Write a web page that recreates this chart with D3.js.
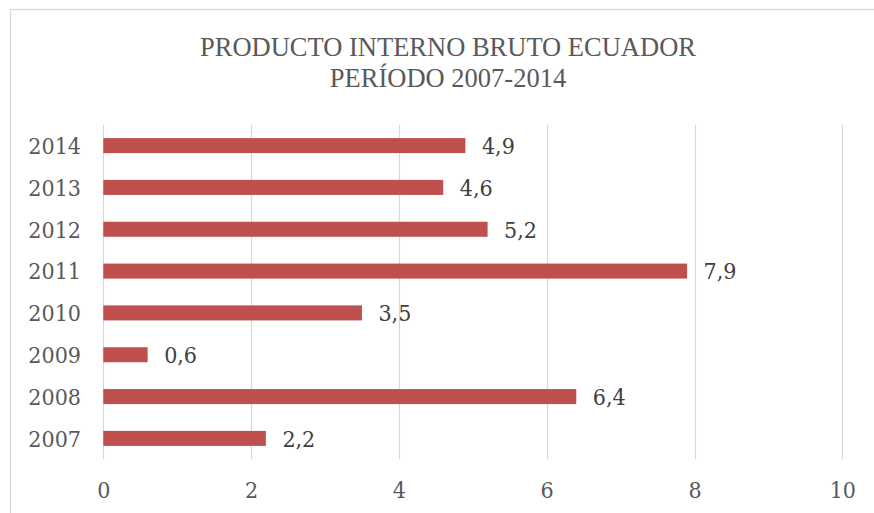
<!DOCTYPE html>
<html><head><meta charset="utf-8">
<script src="https://cdn.jsdelivr.net/npm/d3@7"></script>
<style>html,body{margin:0;padding:0;background:#fff;}svg{display:block;}</style>
</head><body>
<script>
const years = ["2007","2008","2009","2010","2011","2012","2013","2014"];
const values = [2.2, 6.4, 0.6, 3.5, 7.9, 5.2, 4.6, 4.9];
const xTicks = [0, 2, 4, 6, 8, 10];
const titleLines = ["PRODUCTO INTERNO BRUTO ECUADOR", "PERÍODO 2007-2014"];

const W = 874, H = 513;
const svg = d3.select("body").append("svg").attr("width", W).attr("height", H);
const numFont = "'DejaVu Serif Condensed', 'DejaVu Serif', serif";

// chart frame
svg.append("rect").attr("x", 10.5).attr("y", 9.5).attr("width", 900).attr("height", 600)
  .attr("fill", "#fff").attr("stroke", "#d9d9d9").attr("stroke-width", 1.3);

const x = d3.scaleLinear().domain([0, 10]).range([103.3, 842.3]);
const y = d3.scaleBand().domain(years.slice().reverse()).range([124.7, 459.3])
  .paddingInner(0.641).paddingOuter(0.3205);

// gridlines
svg.append("g").selectAll("line").data(xTicks).join("line")
  .attr("x1", d => Math.round(x(d)) + 0.5).attr("x2", d => Math.round(x(d)) + 0.5)
  .attr("y1", 124.7).attr("y2", 459.3)
  .attr("stroke", "#d9d9d9").attr("stroke-width", 1.2);

// x axis labels
const xAxis = d3.axisBottom(x).tickValues(xTicks).tickSize(0).tickPadding(0).tickFormat(d => d);
const gx = svg.append("g").attr("transform", "translate(0,482)").call(xAxis);
gx.select(".domain").remove();
gx.selectAll("text").attr("font-family", numFont).attr("font-size", 23).attr("fill", "#595959").attr("dy", "0.71em").attr("y", 0);

// y axis labels
const yAxis = d3.axisLeft(y).tickSize(0).tickPadding(0);
const gy = svg.append("g").attr("transform", "translate(81,0)").call(yAxis);
gy.select(".domain").remove();
gy.selectAll("text").attr("font-family", numFont).attr("font-size", 23).attr("fill", "#595959").attr("dy", "0.36em");

// bars
svg.append("g").selectAll("rect").data(years).join("rect")
  .attr("x", x(0)).attr("y", d => y(d))
  .attr("width", (d, i) => x(values[i]) - x(0)).attr("height", y.bandwidth())
  .attr("fill", "#c0504d");

// data labels
svg.append("g").selectAll("text").data(years).join("text")
  .attr("x", (d, i) => x(values[i]) + 16.5).attr("y", d => y(d) + y.bandwidth() / 2)
  .attr("dy", "0.36em")
  .attr("font-family", numFont).attr("font-size", 23).attr("fill", "#404040")
  .text((d, i) => d3.format(".1f")(values[i]).replace(".", ","));

// title
svg.append("g").selectAll("text").data(titleLines).join("text")
  .attr("x", 448).attr("y", (d, i) => 55.5 + i * 31.7)
  .attr("text-anchor", "middle")
  .attr("font-family", "'Liberation Serif', 'Times New Roman', serif")
  .attr("font-size", 26.5).attr("fill", "#595959")
  .text(d => d);
</script>
</body></html>
